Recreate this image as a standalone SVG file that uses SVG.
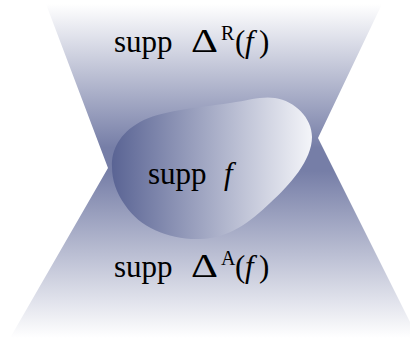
<svg xmlns="http://www.w3.org/2000/svg" width="410" height="341" viewBox="0 0 410 341">
  <defs>
    <linearGradient id="coneGrad" gradientUnits="userSpaceOnUse" x1="0" y1="4" x2="0" y2="338">
      <stop offset="0" stop-color="#ffffff"/>
      <stop offset="0.43" stop-color="#767ea7"/>
      <stop offset="0.5" stop-color="#767ea7"/>
      <stop offset="1" stop-color="#ffffff"/>
    </linearGradient>
    <linearGradient id="blobGrad" gradientUnits="userSpaceOnUse" x1="112" y1="0" x2="312" y2="0">
      <stop offset="0" stop-color="#5a6494"/>
      <stop offset="1" stop-color="#f4f5f9"/>
    </linearGradient>
  </defs>
  <style>
    text { font-family: 'Liberation Serif', 'DejaVu Serif', serif; font-size: 31px; fill: #000000; }
    .delta { font-size: 33px; }
    .sup { font-size: 20px; }
    .it { font-style: italic; }
  </style>
  <rect width="410" height="341" fill="#ffffff"/>
  <g id="cones">
    <polygon points="46,4 382,4 318,138 418,338 10,338 108,168" fill="url(#coneGrad)"/>
  </g>
  <g id="blob">
    <path d="M112,167 C111,150 120,133 140,122 C160,111 195,108 230,103 C250,100 262,96 275,98 C295,101 312,118 312,137 C312,160 290,185 270,203 C250,222 230,238 200,239 C170,240 140,228 125,205 C116,192 112,180 112,167 Z" fill="url(#blobGrad)"/>
  </g>
  <g id="label-retarded">
    <text font-family="Liberation Serif, serif" y="52"><tspan x="114">supp</tspan><tspan class="delta" x="191" textLength="27" lengthAdjust="spacingAndGlyphs">Δ</tspan><tspan class="sup" x="221" y="40">R</tspan><tspan x="235" y="52">(</tspan><tspan class="it" x="245">f</tspan><tspan x="259">)</tspan></text>
  </g>
  <g id="label-support">
    <text font-family="Liberation Serif, serif" y="184"><tspan x="148">supp</tspan><tspan class="it" x="224">f</tspan></text>
  </g>
  <g id="label-advanced">
    <text font-family="Liberation Serif, serif" y="277"><tspan x="114">supp</tspan><tspan class="delta" x="191" textLength="27" lengthAdjust="spacingAndGlyphs">Δ</tspan><tspan class="sup" x="221" y="265">A</tspan><tspan x="235" y="277">(</tspan><tspan class="it" x="245">f</tspan><tspan x="259">)</tspan></text>
  </g>
</svg>
